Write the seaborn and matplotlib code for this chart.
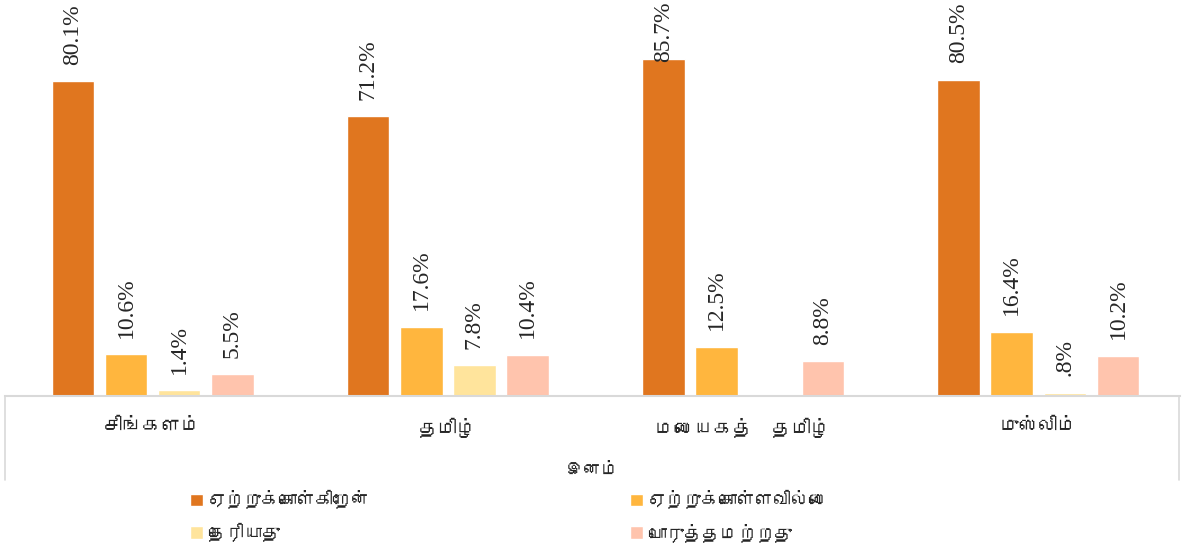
import numpy as np
import pandas as pd
import seaborn as sns
import matplotlib.pyplot as plt
from matplotlib import font_manager
from matplotlib.ft2font import FT2Font
from matplotlib.lines import Line2D

# Data
categories = ['சிங்களம்', 'தமிழ்', 'மலையகத்  தமிழ்', 'முஸ்லிம்']
series = ['ஏற்றுக்கொள்கிறேன்', 'ஏற்றுக்கொள்ளவில்லை', 'தெரியாது', 'பொருத்தமற்றது']
accept = [80.1, 71.2, 85.7, 80.5]
not_accept = [10.6, 17.6, 12.5, 16.4]
dont_know = [1.4, 7.8, np.nan, 0.8]
not_relevant = [5.5, 10.4, 8.8, 10.2]
colors = ['#E0761F', '#FFB63E', '#FFE49C', '#FFC4AD']
axis_title = 'இனம்'


def has_tamil(path):
    try:
        return 0x0BA4 in FT2Font(path).get_charmap()
    except Exception:
        return False


tamil_fams = []
for f in font_manager.fontManager.ttflist:
    if f.name not in tamil_fams and has_tamil(f.fname):
        tamil_fams.append(f.name)

sns.set_style('white')
plt.rcParams['font.family'] = tamil_fams + ['DejaVu Sans']

rows = []
for vals, name in zip([accept, not_accept, dont_know, not_relevant], series):
    for cat, v in zip(categories, vals):
        rows.append({'cat': cat, 'series': name, 'value': v})
df = pd.DataFrame(rows)

fig = plt.figure(figsize=(11.83, 5.52), dpi=100)
ax = fig.add_axes([5 / 1183, 1 - 396 / 552, 1175 / 1183, 393 / 552])

sns.barplot(data=df, x='cat', y='value', hue='series', palette=colors,
            width=0.72, gap=0.2, ax=ax, legend=True, saturation=1)

ax.set_ylim(0, 100)
ax.set_xlim(-0.5, 3.48)
ax.set_yticks([])
ax.set_ylabel('')
ax.set_xlabel(axis_title, fontsize=13, labelpad=18)
ax.tick_params(axis='x', length=0, labelsize=14, pad=16)
for s in ['top', 'left', 'right']:
    ax.spines[s].set_visible(False)
ax.spines['bottom'].set_color('#D9D9D9')
ax.spines['bottom'].set_linewidth(1.5)

# value labels, rotated like the excel chart
ymax = ax.get_ylim()[1]
for cont in ax.containers:
    for bar, v in zip(cont, cont.datavalues):
        if np.isnan(v):
            continue
        t = f'{v:.1f}%'
        if t.startswith('0'):
            t = t[1:]
        xc = bar.get_x() + bar.get_width() / 2
        if v < 83:
            ax.annotate(t, (xc, v), xytext=(0, 12), textcoords='offset points',
                        rotation=90, ha='center', va='bottom',
                        fontsize=17, family='Liberation Serif')
        else:
            # not enough room above: excel pushes it down onto the bar
            ax.annotate(t, (xc, ymax), xytext=(0, 1), textcoords='offset points',
                        rotation=90, ha='center', va='top',
                        fontsize=17, family='Liberation Serif')

# frame of plot area under the axis
fig.add_artist(Line2D([5 / 1183, 5 / 1183], [1 - 396 / 552, 1 - 480 / 552],
                      color='#D9D9D9', lw=1.2))
fig.add_artist(Line2D([1179 / 1183, 1179 / 1183], [1 - 396 / 552, 1 - 480 / 552],
                      color='#D9D9D9', lw=1.2))

handles, labels = ax.get_legend_handles_labels()
ax.legend_.remove()
leg_kw = dict(frameon=False, fontsize=13, handlelength=0.7, handleheight=0.7,
              handletextpad=0.3, labelspacing=0.75, borderaxespad=0, borderpad=0)
fig.legend([handles[0], handles[2]], [labels[0], labels[2]],
           loc='center left', bbox_to_anchor=(190 / 1183, 1 - 516 / 552), **leg_kw)
fig.legend([handles[1], handles[3]], [labels[1], labels[3]],
           loc='center left', bbox_to_anchor=(630 / 1183, 1 - 516 / 552), **leg_kw)

fig.savefig('out.png', dpi=100)
